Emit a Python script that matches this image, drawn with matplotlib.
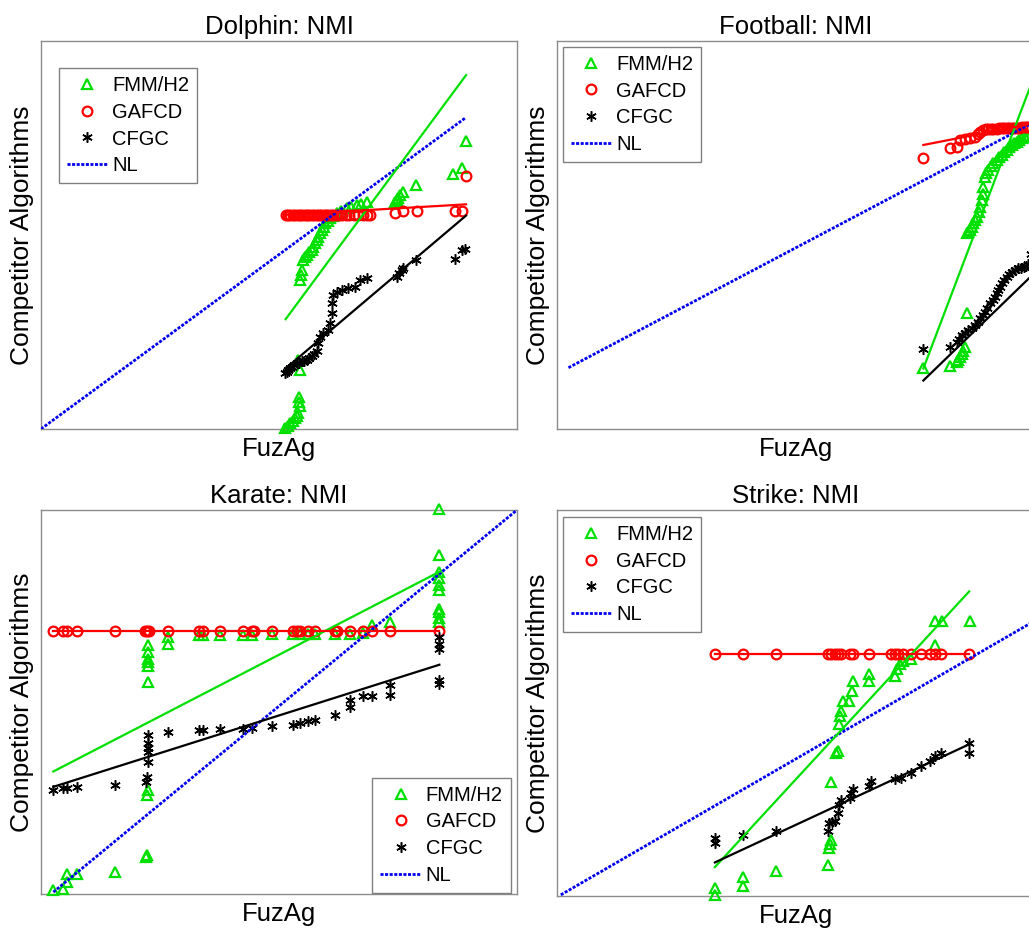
import matplotlib
matplotlib.use('Agg')
import matplotlib.pyplot as plt

plt.rcParams['font.family'] = ['Liberation Sans', 'DejaVu Sans']

# values, both axes on a 0-100 scale (no ticks shown)
# ---- Dolphin ----
dol_fmm_x = [51.3, 51.8, 52.3, 52.9, 53.4, 53.8, 54.1, 54.4, 54.3, 54.3, 54.4, 54.1, 54.4, 54.6,
             54.8, 55.1, 55.5, 55.8, 56.3, 56.9, 57.2, 57.6, 58.0, 58.3, 58.7, 59.0, 59.4, 59.7,
             60.2, 60.7, 61.4, 62.1, 63.1, 64.2, 65.2, 66.3, 67.3, 68.4, 74.4, 74.7, 75.1, 75.4,
             76.1, 78.7, 86.6, 88.4, 89.3]
dol_fmm_y = [0.2, 0.8, 1.5, 2.1, 2.8, 3.4, 4.0, 5.8, 7.0, 8.3, 15.2, 17.8, 38.4, 39.8,
             41.0, 43.6, 44.3, 44.9, 45.5, 46.1, 47.0, 47.9, 48.7, 49.6, 50.4, 51.3, 52.1, 53.0,
             53.6, 54.3, 55.0, 55.6, 56.2, 56.9, 57.3, 57.7, 58.1, 58.6, 58.4, 59.0, 59.6, 60.3,
             61.2, 62.9, 65.7, 67.2, 74.2]
dol_gaf_x = [51.4, 51.9, 52.4, 52.9, 53.4, 53.9, 54.4, 54.9, 55.4, 55.9, 56.4, 56.9, 57.4, 57.9,
             58.4, 58.9, 59.4, 59.9, 60.4, 60.9, 61.4, 62.0, 62.6, 63.3, 64.0, 64.8, 65.7, 66.6,
             67.6, 68.4, 69.1, 74.4, 76.1, 78.9, 87.0, 88.4, 89.3]
dol_gaf_y = [55.2, 55.2, 55.2, 55.2, 55.2, 55.2, 55.2, 55.2, 55.2, 55.2, 55.2, 55.2, 55.2, 55.2,
             55.2, 55.2, 55.2, 55.2, 55.2, 55.2, 55.2, 55.2, 55.2, 55.2, 55.2, 55.2, 55.2, 55.2,
             55.2, 55.2, 55.2, 55.6, 56.2, 56.2, 56.2, 56.2, 65.3]
dol_cfg_x = [51.3, 51.7, 52.0, 52.4, 52.7, 53.2, 53.7, 54.3, 54.8, 55.3, 55.8, 56.4, 56.9, 57.4,
             57.9, 58.3, 58.6, 59.3, 60.4, 60.7, 61.1, 61.1, 61.4, 62.1, 63.2, 64.6, 66.0, 67.0,
             68.4, 74.7, 75.3, 75.8, 76.1, 78.7, 87.0, 88.4, 89.1]
dol_cfg_y = [14.4, 14.8, 15.2, 15.6, 16.1, 16.5, 16.9, 17.1, 17.4, 17.6, 17.8, 18.2, 18.7, 19.3,
             20.0, 22.1, 23.8, 24.7, 25.5, 27.2, 29.8, 32.4, 34.5, 35.4, 35.8, 36.3, 36.7, 38.4,
             38.8, 39.3, 40.2, 41.0, 41.4, 43.6, 43.7, 46.1, 46.3]
dol_fit_x = [51.4, 89.3]
dol_fmm_fit = [28.3, 91.2]
dol_gaf_fit = [55.2, 57.9]
dol_cfg_fit = [15.6, 55.0]
dol_nl_x = [0.0, 89.3]
dol_nl_y = [0.0, 80.3]

# ---- Football ----
fb_fmm_x = [76.8, 82.4, 83.8, 84.1, 84.5, 84.8, 85.2, 85.5, 85.9, 85.9, 86.2, 86.6, 86.9, 87.3,
            87.6, 88.0, 88.4, 88.7, 89.0, 89.2, 89.4, 89.7, 90.0, 90.4, 91.0, 91.5, 92.2, 92.7,
            93.2, 93.8, 94.3, 94.8, 95.3, 95.9, 96.4, 96.9, 97.4, 98.0, 98.5, 99.0]
fb_fmm_y = [15.6, 16.2, 17.3, 17.8, 18.6, 19.3, 20.0, 21.2, 29.8, 50.4, 50.9, 51.3, 52.1, 53.0,
            53.9, 54.7, 56.0, 57.3, 59.0, 60.6, 62.4, 65.0, 65.9, 66.8, 67.7, 68.5, 69.3, 70.0,
            70.6, 71.3, 71.9, 72.6, 73.2, 73.6, 74.0, 74.5, 74.9, 75.2, 75.5, 75.8]
fb_gaf_x = [76.8, 82.4, 83.8, 84.5, 85.5, 86.6, 87.6, 88.3, 88.7, 89.4, 90.0, 90.4, 91.0, 91.5,
            92.2, 92.7, 93.2, 93.8, 94.3, 94.8, 95.3, 95.9, 96.4, 96.9, 97.4, 98.0, 98.5, 99.0]
fb_gaf_y = [69.9, 72.3, 72.8, 74.5, 74.7, 74.9, 75.3, 76.0, 76.6, 77.0, 77.2, 77.3, 77.3, 77.4,
            77.4, 77.5, 77.5, 77.5, 77.6, 77.6, 77.6, 77.7, 77.7, 77.7, 77.8, 77.8, 77.8, 77.9]
fb_cfg_x = [76.8, 82.4, 83.8, 84.3, 84.8, 85.5, 86.2, 86.9, 87.6, 88.2, 88.7, 89.2, 89.7, 90.2,
            90.8, 91.3, 91.8, 92.2, 92.5, 92.9, 93.2, 93.8, 94.3, 94.8, 95.3, 96.0, 96.7, 97.2,
            97.8, 98.3, 98.8, 99.3]
fb_cfg_y = [20.5, 21.2, 22.5, 23.3, 24.2, 24.8, 25.5, 26.1, 26.8, 27.6, 28.5, 29.3, 30.2, 31.3,
            32.4, 33.2, 34.1, 35.0, 35.8, 36.7, 37.6, 38.5, 39.3, 39.9, 40.5, 41.0, 41.4, 41.6,
            41.8, 42.0, 42.5, 45.0]
fb_fit_x = [76.8, 100.0]
fb_fmm_fit = [15.6, 90.8]
fb_gaf_fit = [73.2, 78.8]
fb_cfg_fit = [12.5, 40.1]
fb_nl_x = [2.4, 100.0]
fb_nl_y = [15.8, 79.1]

# ---- Karate ----
ka_fmm_x = [2.6, 4.7, 5.4, 5.4, 7.5, 15.5, 22.1, 22.3, 22.3, 22.5, 22.5, 22.5, 22.5, 22.5,
            22.5, 22.5, 26.7, 26.7, 33.1, 34.1, 37.6, 42.4, 44.3, 48.5, 53.0, 54.4, 56.2, 57.6,
            61.8, 64.9, 67.6, 69.5, 73.3, 83.7, 83.7, 83.7, 83.7, 83.7, 83.7, 83.7, 83.7, 83.7,
            83.7]
ka_fmm_y = [1.0, 1.2, 3.1, 5.3, 5.3, 5.6, 9.6, 10.1, 25.7, 27.0, 55.2, 59.5, 60.4, 61.3,
            63.0, 64.8, 65.2, 66.9, 67.5, 67.5, 67.5, 67.5, 67.5, 67.8, 67.8, 67.8, 67.8, 67.8,
            67.8, 67.8, 68.0, 70.0, 70.8, 70.8, 72.0, 73.4, 74.3, 79.1, 80.4, 82.3, 83.9, 88.2,
            100.2]
ka_gaf_x = [2.6, 4.7, 5.4, 7.5, 15.5, 21.8, 22.2, 22.6, 26.7, 33.1, 34.1, 37.6, 42.4, 44.3,
            44.7, 48.5, 53.0, 53.7, 54.4, 56.2, 57.6, 61.8, 62.2, 64.9, 67.6, 69.5, 73.3, 83.7]
ka_gaf_y = [68.4, 68.4, 68.4, 68.4, 68.4, 68.4, 68.4, 68.4, 68.4, 68.4, 68.4, 68.4, 68.4, 68.4,
            68.4, 68.4, 68.4, 68.4, 68.4, 68.4, 68.4, 68.4, 68.4, 68.4, 68.4, 68.4, 68.4, 68.4]
ka_cfg_x = [2.6, 4.7, 5.4, 7.5, 15.5, 22.1, 22.2, 22.5, 22.5, 22.5, 22.5, 22.5, 26.7, 33.1,
            34.1, 37.6, 42.4, 44.3, 48.5, 53.0, 54.4, 56.2, 57.6, 61.8, 64.9, 64.9, 67.6, 69.5,
            73.3, 73.3, 83.7, 83.7, 83.7, 83.7, 83.7]
ka_cfg_y = [27.2, 27.6, 27.6, 27.9, 28.3, 29.2, 30.5, 34.4, 37.0, 37.9, 39.2, 41.3, 42.2, 42.6,
            42.6, 42.9, 42.9, 43.3, 43.8, 44.1, 44.4, 45.0, 45.2, 46.5, 48.7, 50.4, 51.6, 51.6,
            51.7, 54.5, 54.8, 55.7, 63.9, 65.2, 66.9]
ka_fit_x = [2.6, 83.7]
ka_fmm_fit = [31.9, 83.9]
ka_gaf_fit = [68.4, 68.4]
ka_cfg_fit = [27.9, 59.7]
ka_nl_x = [2.6, 100.0]
ka_nl_y = [0.5, 100.0]

# ---- Strike ----
st_fmm_x = [33.1, 33.1, 39.0, 39.0, 45.9, 56.8, 57.0, 57.2, 57.4, 57.4, 58.4, 59.0, 59.2, 59.4,
            59.6, 59.9, 61.3, 61.8, 62.0, 65.5, 65.5, 70.8, 71.2, 71.8, 72.5, 74.3, 79.2, 79.2,
            80.7, 86.5]
st_fmm_y = [0.3, 2.1, 2.5, 4.9, 6.6, 8.1, 12.5, 13.5, 14.6, 29.5, 37.1, 37.6, 44.6, 46.7,
            48.0, 50.6, 50.6, 53.2, 55.8, 55.8, 57.5, 57.1, 58.9, 60.1, 61.0, 61.5, 64.9, 71.2,
            71.3, 71.2]
st_gaf_x = [33.1, 39.0, 45.9, 56.8, 57.5, 58.2, 58.9, 59.6, 61.4, 62.0, 65.5, 70.1, 70.8, 71.5,
            72.6, 74.3, 76.4, 78.1, 79.2, 80.6, 86.4]
st_gaf_y = [62.7, 62.7, 62.7, 62.7, 62.7, 62.7, 62.7, 62.7, 62.7, 62.7, 62.7, 62.7, 62.7, 62.7,
            62.7, 62.7, 62.7, 62.7, 62.7, 62.7, 62.7]
st_cfg_x = [33.1, 33.1, 39.0, 45.9, 56.8, 57.1, 57.6, 58.2, 58.9, 59.2, 59.6, 61.4, 61.7, 62.0,
            65.5, 65.8, 70.8, 72.2, 74.3, 76.4, 78.1, 79.2, 80.6, 86.4, 86.4]
st_cfg_y = [13.8, 15.1, 15.9, 16.8, 16.8, 18.9, 19.2, 19.4, 21.6, 23.7, 25.0, 25.4, 26.7, 27.6,
            28.5, 29.8, 30.4, 30.6, 31.9, 33.6, 35.0, 36.3, 37.0, 37.1, 39.7]
st_fit_x = [33.1, 86.4]
st_fmm_fit = [7.5, 78.9]
st_gaf_fit = [62.7, 62.7]
st_cfg_fit = [8.7, 39.3]
st_nl_x = [0.8, 100.0]
st_nl_y = [0.3, 71.2]

GREEN = '#00e000'
RED = '#ff0000'
BLACK = '#000000'
BLUE = '#0000ee'
ASTER = (6, 2, 0)

fig = plt.figure(figsize=(10.29, 9.32), dpi=100)
fig.patch.set_facecolor('white')


def panel(rect, title, fmm, gaf, cfg, fit_x, fits, nl, leg_loc, leg_anchor):
    ax = fig.add_axes(rect)
    ax.plot(fmm[0], fmm[1], linestyle='none', marker='^', ms=7, mew=1.6,
            mfc='none', mec=GREEN, label='FMM/H2', clip_on=False, zorder=3)
    ax.plot(gaf[0], gaf[1], linestyle='none', marker='o', ms=7, mew=1.6,
            mfc='none', mec=RED, label='GAFCD', clip_on=False, zorder=3)
    ax.plot(cfg[0], cfg[1], linestyle='none', marker=ASTER, ms=7.5, mew=1.1,
            color=BLACK, label='CFGC', clip_on=False, zorder=3)
    ax.plot(nl[0], nl[1], color=BLUE, lw=2.0, dashes=(1.1, 0.55), label='NL', zorder=4)
    ax.plot(fit_x, fits[0], color=GREEN, lw=1.6, zorder=4)
    ax.plot(fit_x, fits[1], color=RED, lw=1.6, zorder=4)
    ax.plot(fit_x, fits[2], color=BLACK, lw=1.6, zorder=4)

    ax.set_xlim(0, 100)
    ax.set_ylim(0, 100)
    ax.set_xticks([])
    ax.set_yticks([])
    for s in ax.spines.values():
        s.set_color('#8c8c8c')
        s.set_linewidth(1.0)
    ax.set_title(title, fontsize=18.5, pad=5)
    ax.set_xlabel('FuzAg', fontsize=18.5, labelpad=6)
    ax.set_ylabel('Competitor Algorithms', fontsize=19, labelpad=5)

    leg = ax.legend(loc=leg_loc, bbox_to_anchor=leg_anchor, borderaxespad=0,
                    fontsize=14.5, handlelength=2.0, handletextpad=0.25,
                    borderpad=0.4, labelspacing=0.38, fancybox=False,
                    framealpha=1, edgecolor='#808080')
    leg.get_frame().set_linewidth(1.0)
    leg.set_zorder(10)
    return ax


panel([0.0398, 0.5397, 0.4626, 0.4163], 'Dolphin: NMI',
      (dol_fmm_x, dol_fmm_y), (dol_gaf_x, dol_gaf_y), (dol_cfg_x, dol_cfg_y),
      dol_fit_x, (dol_fmm_fit, dol_gaf_fit, dol_cfg_fit), (dol_nl_x, dol_nl_y),
      'upper left', (0.038, 0.930))
panel([0.5413, 0.5397, 0.4636, 0.4163], 'Football: NMI',
      (fb_fmm_x, fb_fmm_y), (fb_gaf_x, fb_gaf_y), (fb_cfg_x, fb_cfg_y),
      fb_fit_x, (fb_fmm_fit, fb_gaf_fit, fb_cfg_fit), (fb_nl_x, fb_nl_y),
      'upper left', (0.0126, 0.985))
panel([0.0398, 0.0408, 0.4626, 0.4120], 'Karate: NMI',
      (ka_fmm_x, ka_fmm_y), (ka_gaf_x, ka_gaf_y), (ka_cfg_x, ka_cfg_y),
      ka_fit_x, (ka_fmm_fit, ka_gaf_fit, ka_cfg_fit), (ka_nl_x, ka_nl_y),
      'lower right', (0.987, 0.003))
panel([0.5413, 0.0386, 0.4636, 0.4142], 'Strike: NMI',
      (st_fmm_x, st_fmm_y), (st_gaf_x, st_gaf_y), (st_cfg_x, st_cfg_y),
      st_fit_x, (st_fmm_fit, st_gaf_fit, st_cfg_fit), (st_nl_x, st_nl_y),
      'upper left', (0.0126, 0.982))

fig.savefig('out.png', dpi=100, facecolor='white')
